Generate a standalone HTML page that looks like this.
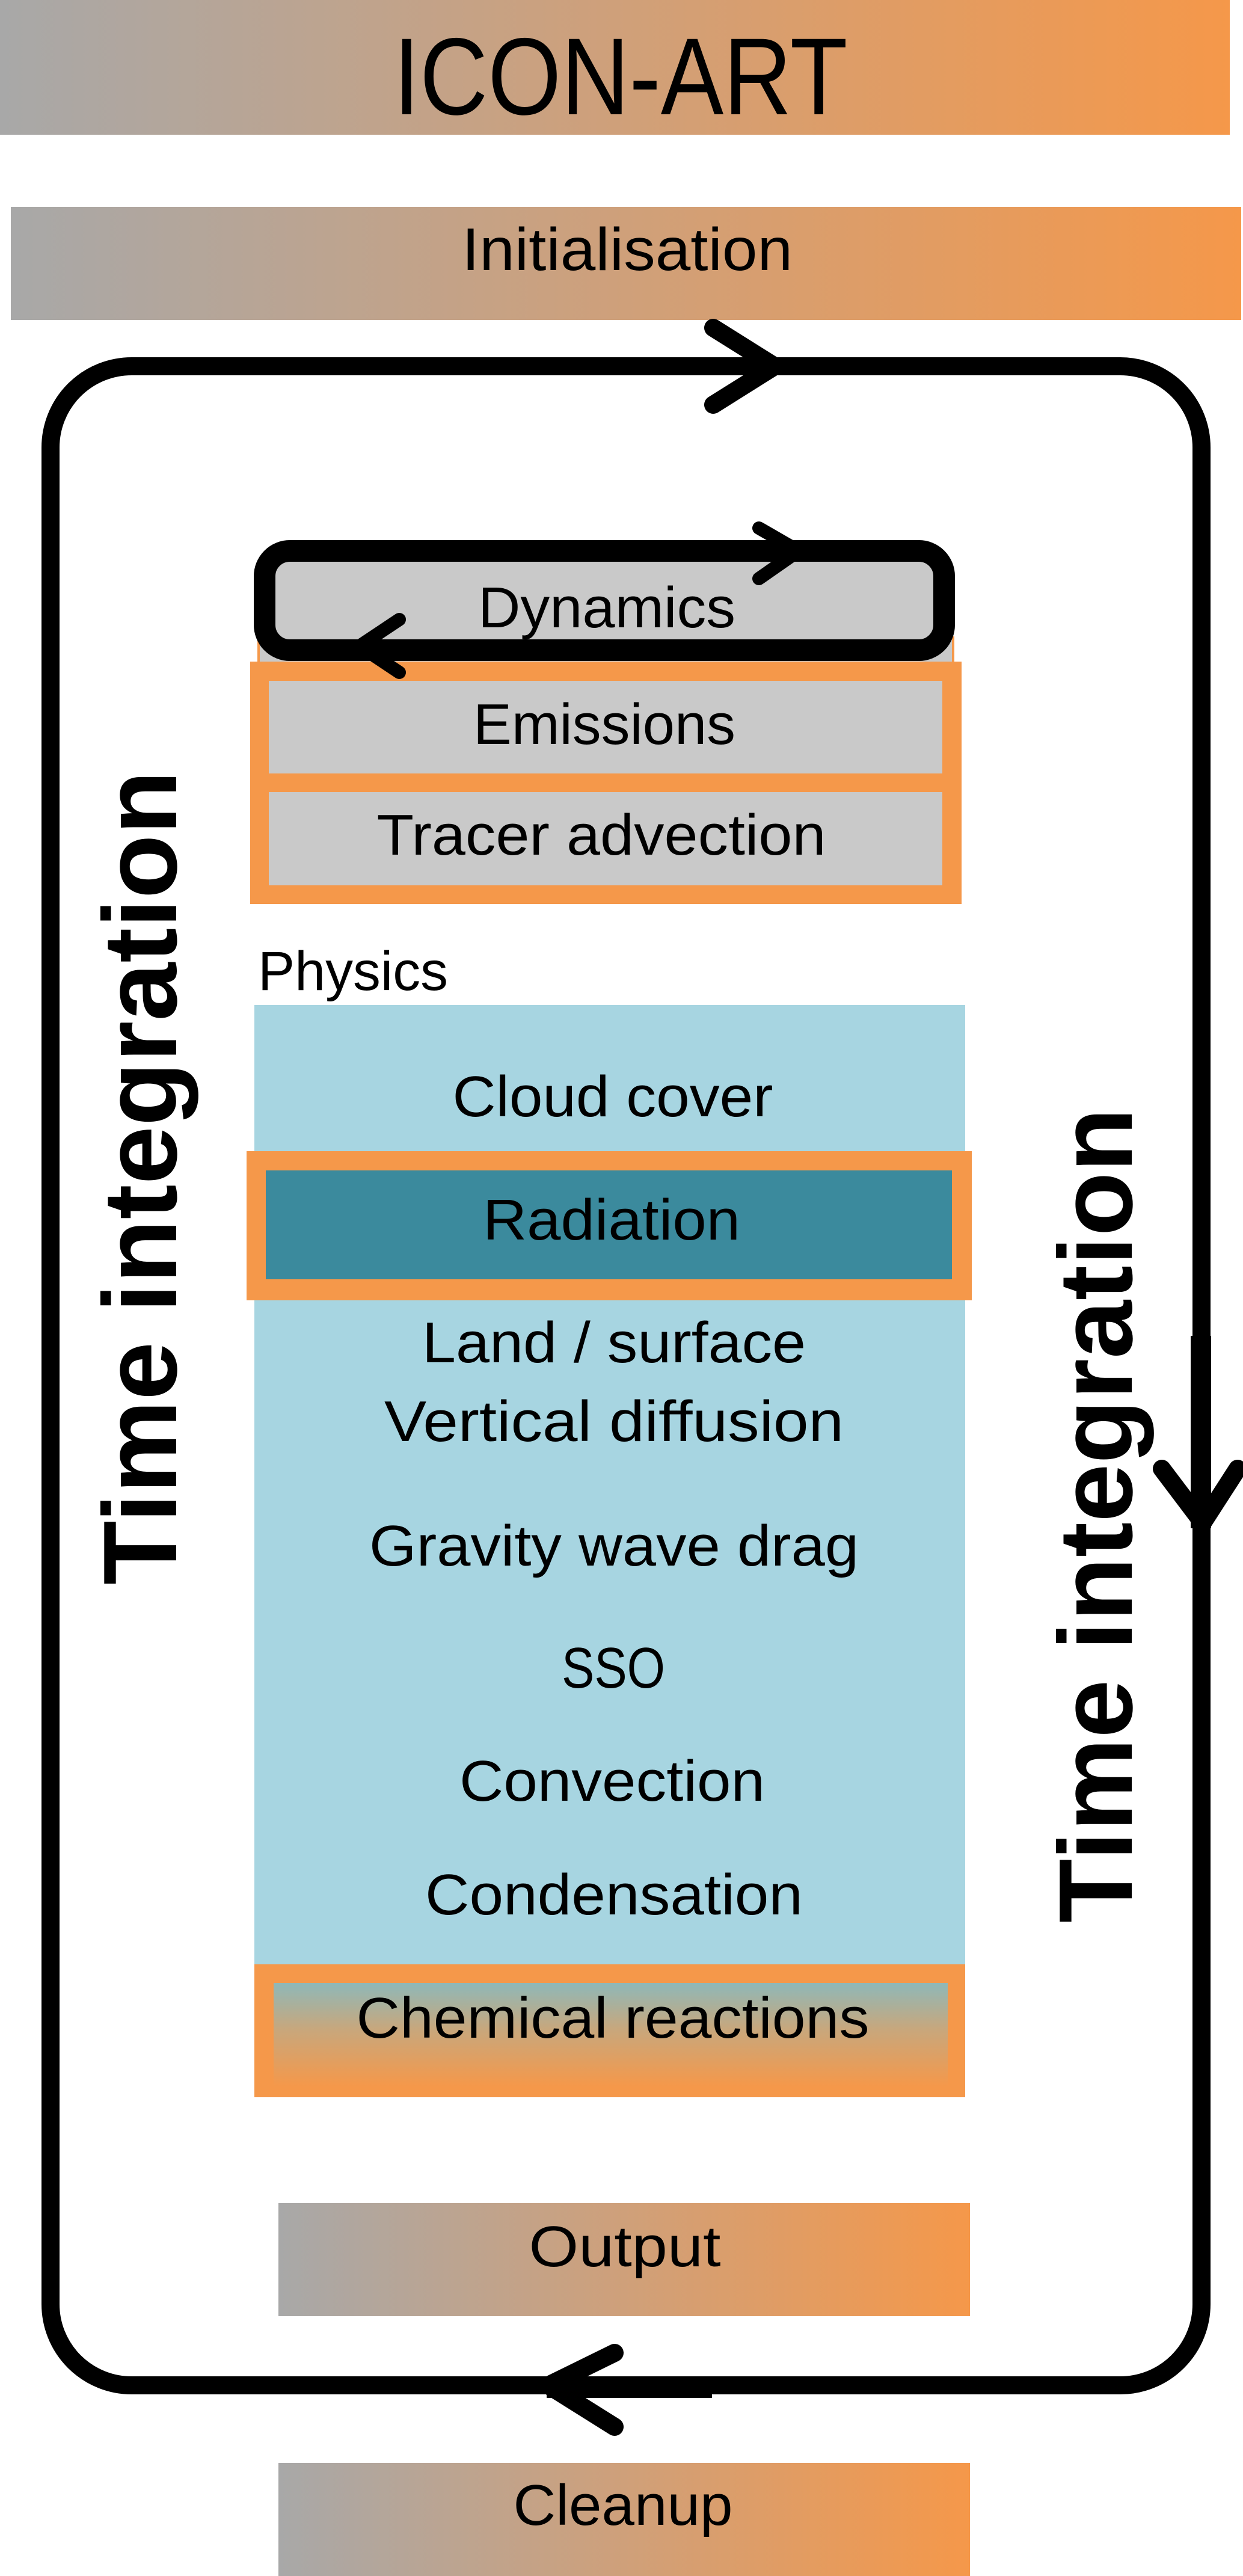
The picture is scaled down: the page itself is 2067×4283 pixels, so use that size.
<!DOCTYPE html>
<html><head><meta charset="utf-8"><style>html,body{margin:0;padding:0;background:#fff}svg{display:block}</style></head>
<body>
<svg width="2067" height="4283" viewBox="0 0 2067 4283" xmlns="http://www.w3.org/2000/svg" font-family="Liberation Sans, sans-serif">
<defs>
<linearGradient id="g1" x1="0" x2="1" y1="0" y2="0"><stop offset="0" stop-color="#a8a8a8"/><stop offset="0.5" stop-color="#cfa07a"/><stop offset="1" stop-color="#f5984a"/></linearGradient>
<linearGradient id="g2" x1="0" x2="0" y1="0" y2="1"><stop offset="0" stop-color="#8fb8b8"/><stop offset="0.45" stop-color="#c8a77c"/><stop offset="1" stop-color="#f5984a"/></linearGradient>
</defs>
<rect x="0" y="0" width="2045" height="224" fill="url(#g1)"/>
<text x="1032" y="190" font-size="182" textLength="755" lengthAdjust="spacingAndGlyphs" text-anchor="middle">ICON-ART</text>
<rect x="18" y="344" width="2046" height="188" fill="url(#g1)"/>
<text x="1043" y="449" font-size="100" textLength="550" lengthAdjust="spacingAndGlyphs" text-anchor="middle">Initialisation</text>

<rect x="84" y="609" width="1914" height="3357" rx="135" ry="135" fill="none" stroke="#000" stroke-width="30"/>
<polyline points="1186,545 1288,609 1186,673" fill="none" stroke="#000" stroke-width="30" stroke-linecap="round" stroke-linejoin="round"/>
<polyline points="1022,3912 912,3966 1022,4035" fill="none" stroke="#000" stroke-width="30" stroke-linecap="round" stroke-linejoin="round"/>
<rect x="909" y="3953" width="275" height="34" fill="#000"/>
<rect x="1980" y="2221" width="34" height="320" fill="#000"/>
<polyline points="1932,2442 2000,2532 2058,2442" fill="none" stroke="#000" stroke-width="30" stroke-linecap="round" stroke-linejoin="round"/>

<text transform="translate(293,2635) rotate(-90)" font-size="174" font-weight="bold" textLength="1354" lengthAdjust="spacingAndGlyphs">Time integration</text>
<text transform="translate(1882,3197) rotate(-90)" font-size="174" font-weight="bold" textLength="1355" lengthAdjust="spacingAndGlyphs">Time integration</text>

<rect x="430" y="1060" width="1155" height="45" fill="#c9c9c9" stroke="#f5984a" stroke-width="4"/>
<rect x="416" y="1100" width="1183" height="403" fill="#f5984a"/>
<rect x="447" y="1132" width="1120" height="154" fill="#c9c9c9"/>
<rect x="447" y="1317" width="1120" height="155" fill="#c9c9c9"/>
<text x="1005" y="1237" font-size="96" textLength="436" lengthAdjust="spacingAndGlyphs" text-anchor="middle">Emissions</text>
<text x="1000" y="1421" font-size="96" textLength="747" lengthAdjust="spacingAndGlyphs" text-anchor="middle">Tracer advection</text>

<rect x="440" y="916" width="1130" height="165" rx="42" ry="42" fill="#c9c9c9" stroke="#000" stroke-width="36"/>
<text x="1009" y="1043" font-size="96" textLength="428" lengthAdjust="spacingAndGlyphs" text-anchor="middle">Dynamics</text>
<polyline points="1262,878 1328,916 1262,962" fill="none" stroke="#000" stroke-width="22" stroke-linecap="round" stroke-linejoin="round"/>
<polyline points="664,1030 598,1074 664,1118" fill="none" stroke="#000" stroke-width="22" stroke-linecap="round" stroke-linejoin="round"/>

<text x="429" y="1646" font-size="92" textLength="316" lengthAdjust="spacingAndGlyphs">Physics</text>
<rect x="423" y="1671" width="1182" height="1597" fill="#a7d5e1"/>
<text x="1019" y="1856" font-size="96" textLength="533" lengthAdjust="spacingAndGlyphs" text-anchor="middle">Cloud cover</text>
<rect x="410" y="1914" width="1206" height="248" fill="#f5984a"/>
<rect x="442" y="1946" width="1141" height="181" fill="#3b8a9d"/>
<text x="1017" y="2061" font-size="96" textLength="428" lengthAdjust="spacingAndGlyphs" text-anchor="middle">Radiation</text>
<text x="1021" y="2265" font-size="96" textLength="638" lengthAdjust="spacingAndGlyphs" text-anchor="middle">Land / surface</text>
<text x="1021" y="2396" font-size="96" textLength="764" lengthAdjust="spacingAndGlyphs" text-anchor="middle">Vertical diffusion</text>
<text x="1021" y="2603" font-size="96" textLength="814" lengthAdjust="spacingAndGlyphs" text-anchor="middle">Gravity wave drag</text>
<text x="1020" y="2806" font-size="96" textLength="172" lengthAdjust="spacingAndGlyphs" text-anchor="middle">SSO</text>
<text x="1018" y="2994" font-size="96" textLength="508" lengthAdjust="spacingAndGlyphs" text-anchor="middle">Convection</text>
<text x="1021" y="3183" font-size="96" textLength="628" lengthAdjust="spacingAndGlyphs" text-anchor="middle">Condensation</text>

<rect x="423" y="3266" width="1182" height="221" fill="#f5984a"/>
<rect x="455" y="3297" width="1121" height="172" fill="url(#g2)"/>
<text x="1019" y="3388" font-size="96" textLength="853" lengthAdjust="spacingAndGlyphs" text-anchor="middle">Chemical reactions</text>

<rect x="463" y="3663" width="1150" height="188" fill="url(#g1)"/>
<text x="1039" y="3768" font-size="96" textLength="319" lengthAdjust="spacingAndGlyphs" text-anchor="middle">Output</text>
<rect x="463" y="4095" width="1150" height="188" fill="url(#g1)"/>
<text x="1036" y="4198" font-size="96" textLength="365" lengthAdjust="spacingAndGlyphs" text-anchor="middle">Cleanup</text>
</svg>
</body></html>
